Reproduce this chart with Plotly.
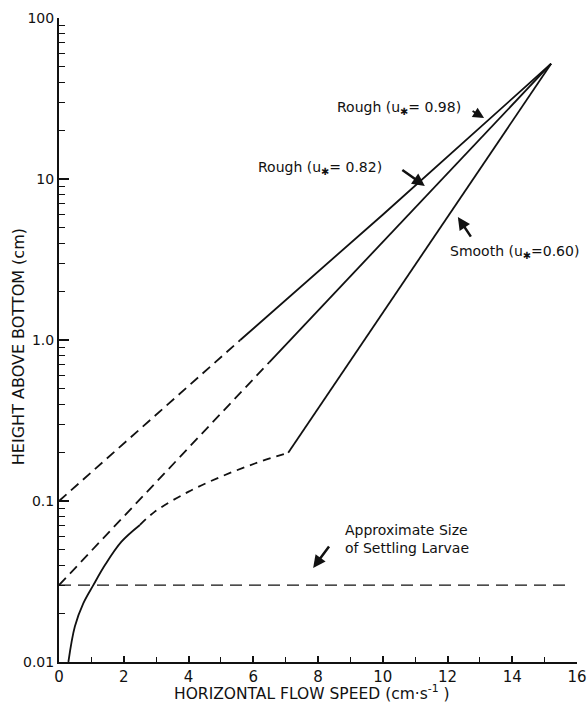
import math
import plotly.graph_objects as go

# ---- data ----
rough98_dash_x = [0.0, 5.6]
rough98_dash_y = [0.1, 1.0]
rough98_solid_x = [5.6, 10.0, 15.2]
rough98_solid_y = [1.0, 6.0, 52.0]

rough82_dash_x = [0.0, 6.5]
rough82_dash_y = [0.03, 0.73]
rough82_solid_x = [6.5, 15.2]
rough82_solid_y = [0.73, 52.0]

smooth_curve_x = [0.29, 0.49, 0.75, 1.06, 1.42, 1.93, 2.5]
smooth_curve_y = [0.01, 0.0166, 0.0231, 0.030, 0.040, 0.0559, 0.071]
smooth_dash_x = [2.5, 2.96, 3.99, 5.02, 6.05, 7.08]
smooth_dash_y = [0.071, 0.0859, 0.114, 0.142, 0.171, 0.1995]
smooth_solid_x = [7.08, 15.2]
smooth_solid_y = [0.1995, 52.0]

larvae_x = [0.0, 15.7]
larvae_y = [0.03, 0.03]

x_tick_vals = [0, 2, 4, 6, 8, 10, 12, 14, 16]
x_tick_text = ["0", "2", "4", "6", "8", "10", "12", "14", "16"]
y_tick_vals = [0.01, 0.1, 1, 10, 100]
y_tick_text = ["0.01", "0.1", "1.0", "10", "100"]

FONT = "DejaVu Sans"
INK = "#111111"

fig = go.Figure()

def add(x, y, dash="solid", shape="linear", width=1.8):
    fig.add_trace(go.Scatter(x=x, y=y, mode="lines",
                             line=dict(color=INK, width=width, dash=dash, shape=shape),
                             showlegend=False, hoverinfo="skip"))

add(rough98_dash_x, rough98_dash_y, dash="10px,6px")
add(rough98_solid_x, rough98_solid_y)
add(rough82_dash_x, rough82_dash_y, dash="10px,6px")
add(rough82_solid_x, rough82_solid_y)
add(smooth_curve_x, smooth_curve_y, shape="spline")
add(smooth_dash_x, smooth_dash_y, dash="8px,6px", shape="spline")
add(smooth_solid_x, smooth_solid_y)
add(larvae_x, larvae_y, dash="12px,7px", width=1.3)

minor_y = [k * 10.0 ** e for e in range(-2, 2) for k in range(2, 10)]

fig.update_xaxes(range=[0, 16], tickvals=x_tick_vals, ticktext=x_tick_text,
                 ticks="inside", ticklen=6, tickwidth=1.5, tickcolor=INK,
                 showline=True, linecolor=INK, linewidth=2, showgrid=False,
                 zeroline=False, automargin=False,
                 minor=dict(ticks="inside", ticklen=5, tickwidth=1.3, tickcolor=INK,
                            dtick=1, showgrid=False),
                 tickfont=dict(family=FONT, size=15, color=INK))
fig.update_yaxes(type="log", range=[-2, 2], tickvals=y_tick_vals, ticktext=y_tick_text,
                 ticks="inside", ticklen=10, tickwidth=1.5, tickcolor=INK,
                 showline=True, linecolor=INK, linewidth=2, showgrid=False,
                 zeroline=False, automargin=False,
                 minor=dict(ticks="inside", ticklen=6, tickwidth=1.3, tickcolor=INK,
                            tickmode="array", tickvals=minor_y, showgrid=False),
                 tickfont=dict(family=FONT, size=14, color=INK))

# axis titles
fig.add_annotation(xref="paper", yref="paper", x=0.488, y=-0.047,
                   text="HORIZONTAL FLOW SPEED (cm·s<sup>-1</sup> )", showarrow=False,
                   xanchor="center", yanchor="middle",
                   font=dict(family=FONT, size=15.5, color=INK))
fig.add_annotation(xref="paper", yref="paper", x=-0.079, y=0.489,
                   text="HEIGHT ABOVE BOTTOM (cm)", showarrow=False, textangle=-90,
                   xanchor="center", yanchor="middle",
                   font=dict(family=FONT, size=16, color=INK))

L = math.log10
ann_font = dict(family=FONT, size=14, color=INK)
U = "u<sub>✱</sub>"

fig.add_annotation(x=8.52, y=L(27.6), text=f"Rough ({U}= 0.98)", showarrow=False,
                   xanchor="left", yanchor="middle", font=ann_font)
fig.add_annotation(x=13.13, y=L(23.9), ax=-13, ay=-8, text="", showarrow=True,
                   arrowhead=2, arrowsize=1.1, arrowwidth=2, arrowcolor=INK)

fig.add_annotation(x=6.1, y=L(11.7), text=f"Rough ({U}= 0.82)", showarrow=False,
                   xanchor="left", yanchor="middle", font=ann_font)
fig.add_annotation(x=11.3, y=L(9.06), ax=-24, ay=-17, text="", showarrow=True,
                   arrowhead=2, arrowsize=1.0, arrowwidth=2.5, arrowcolor=INK)

fig.add_annotation(x=12.02, y=L(3.52), text=f"Smooth ({U}=0.60)", showarrow=False,
                   xanchor="left", yanchor="middle", font=ann_font)
fig.add_annotation(x=12.32, y=L(5.8), ax=14, ay=21, text="", showarrow=True,
                   arrowhead=2, arrowsize=1.0, arrowwidth=2.5, arrowcolor=INK)

fig.add_annotation(x=8.77, y=L(0.058), text="Approximate Size<br>of Settling Larvae",
                   showarrow=False, xanchor="left", yanchor="middle", align="left",
                   font=ann_font)
fig.add_annotation(x=7.85, y=L(0.0384), ax=17, ay=-23, text="", showarrow=True,
                   arrowhead=2, arrowsize=1.0, arrowwidth=2.5, arrowcolor=INK)

fig.update_layout(width=588, height=705, paper_bgcolor="white", plot_bgcolor="white",
                  margin=dict(l=59, r=11, t=18, b=43), showlegend=False)

fig.write_html("out.html", config={"displayModeBar": False},
               post_script="document.body.style.margin='0';document.body.style.overflow='hidden';")
